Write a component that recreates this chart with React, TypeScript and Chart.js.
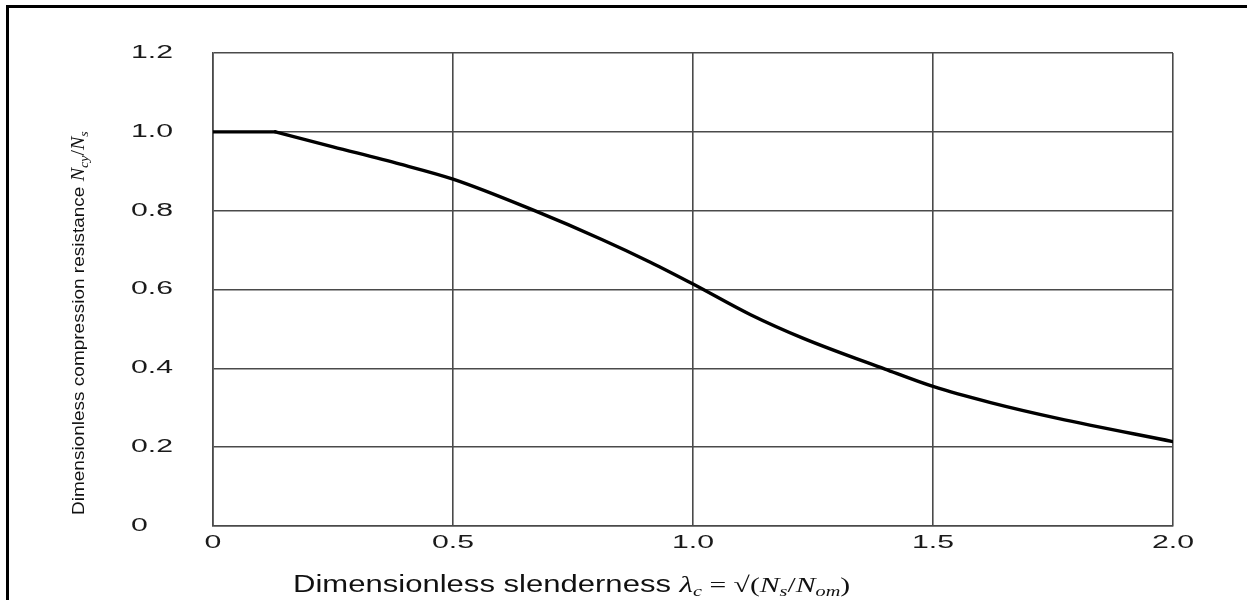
import { useEffect, useRef } from 'react';
import { Chart, registerables } from 'chart.js';

Chart.register(...registerables);

// ---- data ----
// plateau (straight) part of the curve
const plateauSlenderness = [0, 0.13];
const plateauResistance = [1.0, 1.0];
// descending (smooth) part of the curve
const curveSlenderness = [0.13, 0.25, 0.39, 0.5, 0.67, 0.81, 0.91, 1.0, 1.12, 1.23, 1.4, 1.5, 1.62, 1.76, 2.0];
const curveResistance = [1.0, 0.962, 0.918, 0.88, 0.8, 0.727, 0.67, 0.614, 0.536, 0.476, 0.398, 0.354, 0.313, 0.273, 0.214];

const xTickValues = [0, 0.5, 1.0, 1.5, 2.0];
const xTickLabels = ['0', '0.5', '1.0', '1.5', '2.0'];
const yTickValues = [0, 0.2, 0.4, 0.6, 0.8, 1.0, 1.2];
const yTickLabels = ['0', '0.2', '0.4', '0.6', '0.8', '1.0', '1.2'];

const SANS = '"Liberation Sans", Arial, sans-serif';
const SERIF = '"Liberation Serif", "Times New Roman", serif';

type Run = { text: string; font: string; dy?: number };

const xTitleRuns: Run[] = [
  { text: 'Dimensionless slenderness ', font: `23px ${SANS}` },
  { text: 'λ', font: `italic 23px ${SERIF}` },
  { text: 'c', font: `italic 15px ${SERIF}`, dy: 4 },
  { text: ' = √(', font: `22px ${SERIF}` },
  { text: 'N', font: `italic 22px ${SERIF}` },
  { text: 's', font: `italic 15px ${SERIF}`, dy: 4 },
  { text: '/', font: `22px ${SERIF}` },
  { text: 'N', font: `italic 22px ${SERIF}` },
  { text: 'om', font: `italic 15px ${SERIF}`, dy: 4 },
  { text: ')', font: `22px ${SERIF}` },
];

const yTitleRuns: Run[] = [
  { text: 'Dimensionless compression resistance ', font: `19px ${SANS}` },
  { text: 'N', font: `italic 20px ${SERIF}` },
  { text: 'cy', font: `italic 14px ${SERIF}`, dy: 4 },
  { text: '/', font: `20px ${SERIF}` },
  { text: 'N', font: `italic 20px ${SERIF}` },
  { text: 's', font: `italic 14px ${SERIF}`, dy: 4 },
];

const TICK_STRETCH = 1.68;
const XTITLE_STRETCH = 1.35;
const YTITLE_SQUEEZE = 0.9;

function labelFor(values: number[], labels: string[], v: number) {
  const i = values.findIndex((t) => Math.abs(t - v) < 1e-9);
  return i >= 0 ? labels[i] : '';
}

function drawRuns(ctx: CanvasRenderingContext2D, runs: Run[]) {
  let cx = 0;
  for (const r of runs) {
    ctx.font = r.font;
    ctx.fillText(r.text, cx, r.dy || 0);
    cx += ctx.measureText(r.text).width;
  }
}

const framePlugin = {
  id: 'frame',
  beforeDraw(chart: any) {
    const ctx = chart.ctx as CanvasRenderingContext2D;
    ctx.save();
    ctx.fillStyle = '#ffffff';
    ctx.fillRect(0, 0, chart.width, chart.height);
    ctx.fillStyle = '#000000';
    ctx.fillRect(6, 5, 3, chart.height - 5);
    ctx.fillRect(6, 5, chart.width - 6, 3);
    ctx.restore();
    // stretch tick labels horizontally like the reference
    for (const id of ['x', 'y']) {
      const scale: any = chart.scales[id];
      if (scale && !scale.__stretched) {
        const orig = scale.drawLabels.bind(scale);
        scale.drawLabels = (area: any) => {
          const c: any = scale.ctx;
          const origFill = CanvasRenderingContext2D.prototype.fillText;
          c.fillText = function (text: string, x: number, y: number) {
            this.save();
            this.translate(x, y);
            this.scale(TICK_STRETCH, 1);
            origFill.call(this, text, 0, 0);
            this.restore();
          };
          try {
            orig(area);
          } finally {
            delete c.fillText;
          }
        };
        scale.__stretched = true;
      }
    }
  },
  afterDraw(chart: any) {
    const ctx = chart.ctx as CanvasRenderingContext2D;
    ctx.save();
    ctx.fillStyle = '#111111';
    ctx.textAlign = 'left';
    ctx.textBaseline = 'alphabetic';
    // x title
    ctx.save();
    ctx.translate(293, 592);
    ctx.scale(XTITLE_STRETCH, 1);
    drawRuns(ctx, xTitleRuns);
    ctx.restore();
    // y title
    ctx.save();
    ctx.translate(84, 515);
    ctx.rotate(-Math.PI / 2);
    ctx.scale(1, YTITLE_SQUEEZE);
    drawRuns(ctx, yTitleRuns);
    ctx.restore();
    ctx.restore();
  },
};

export default function App() {
  const ref = useRef<HTMLCanvasElement>(null);

  useEffect(() => {
    if (!ref.current) return;
    const plateau = plateauSlenderness.map((x, i) => ({ x, y: plateauResistance[i] }));
    const curve = curveSlenderness.map((x, i) => ({ x, y: curveResistance[i] }));
    const gridColor = '#4a4a4a';
    const tickFont = { family: SANS, size: 18 };
    const lineStyle = {
      borderColor: '#000000',
      borderWidth: 3.4,
      pointRadius: 0,
      fill: false,
      borderCapStyle: 'round' as const,
      borderJoinStyle: 'round' as const,
    };
    const chart = new Chart(ref.current, {
      type: 'line',
      data: {
        datasets: [
          { ...lineStyle, data: plateau, tension: 0 },
          { ...lineStyle, data: curve, cubicInterpolationMode: 'monotone' },
        ],
      },
      options: {
        animation: false,
        responsive: true,
        maintainAspectRatio: false,
        layout: { padding: { left: 131, right: 74, top: 53, bottom: 34 } },
        plugins: { legend: { display: false }, tooltip: { enabled: false }, title: { display: false } },
        scales: {
          x: {
            type: 'linear',
            min: 0,
            max: 2,
            afterFit: (s: any) => {
              s.height = 40;
            },
            afterBuildTicks: (s: any) => {
              s.ticks = xTickValues.map((v) => ({ value: v }));
            },
            ticks: {
              color: '#1a1a1a',
              font: tickFont,
              padding: 6,
              maxRotation: 0,
              autoSkip: false,
              callback: (v: any) => labelFor(xTickValues, xTickLabels, Number(v)),
            },
            grid: { color: gridColor, lineWidth: 1.6, drawTicks: false, tickLength: 0 },
            border: { color: gridColor, width: 1.6 },
          },
          y: {
            type: 'linear',
            min: 0,
            max: 1.2,
            afterFit: (s: any) => {
              s.width = 82;
            },
            afterBuildTicks: (s: any) => {
              s.ticks = yTickValues.map((v) => ({ value: v }));
            },
            ticks: {
              color: '#1a1a1a',
              font: tickFont,
              padding: 0,
              crossAlign: 'far',
              autoSkip: false,
              callback: (v: any) => labelFor(yTickValues, yTickLabels, Number(v)),
            },
            grid: { color: gridColor, lineWidth: 1.6, drawTicks: false, tickLength: 0 },
            border: { color: gridColor, width: 1.6 },
          },
        },
      },
      plugins: [framePlugin],
    });
    return () => chart.destroy();
  }, []);

  return (
    <div style={{ position: 'absolute', left: 0, top: 0, width: 1247, height: 600 }}>
      <canvas ref={ref} />
    </div>
  );
}
